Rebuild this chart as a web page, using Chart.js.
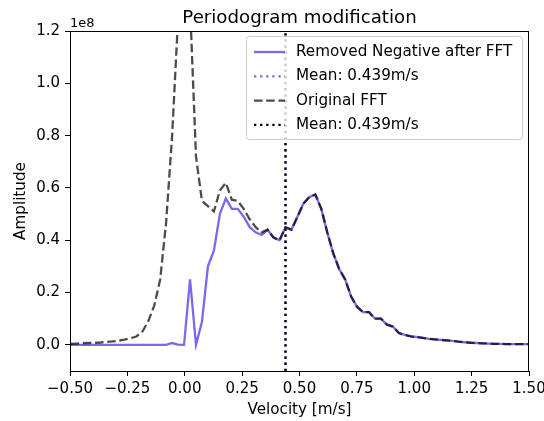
<!DOCTYPE html>
<html>
<head>
<meta charset="utf-8">
<script src="https://cdn.jsdelivr.net/npm/chart.js@4.4.1/dist/chart.umd.min.js"></script>
<style>
  html, body { margin: 0; padding: 0; background: #fff; }
  canvas { display: block; }
</style>
</head>
<body>
<canvas id="periodogram" width="544" height="421"></canvas>
<script>
// velocity bins [m/s]
const velocity = [
  -0.497, -0.471, -0.445, -0.419, -0.393, -0.367, -0.341, -0.315, -0.289, -0.263,
  -0.237, -0.211, -0.185, -0.159, -0.133, -0.107, -0.081, -0.055, -0.029, -0.003,
  0.023, 0.049, 0.075, 0.101, 0.127, 0.153, 0.179, 0.205, 0.231, 0.257,
  0.283, 0.309, 0.335, 0.361, 0.387, 0.413, 0.439, 0.465, 0.491, 0.517,
  0.543, 0.569, 0.595, 0.621, 0.647, 0.673, 0.699, 0.725, 0.751, 0.777,
  0.803, 0.829, 0.855, 0.881, 0.907, 0.933, 0.959, 0.985, 1.011, 1.037,
  1.063, 1.089, 1.115, 1.141, 1.167, 1.193, 1.219, 1.245, 1.271, 1.297,
  1.323, 1.349, 1.375, 1.401, 1.427, 1.453, 1.479, 1.505
];

// amplitudes in units of 1e8
const originalFFT = [
  0.004, 0.005, 0.006, 0.007, 0.008, 0.009, 0.011, 0.013, 0.016, 0.020,
  0.025, 0.032, 0.050, 0.090, 0.150, 0.250, 0.470, 0.800, 1.250, 1.500,
  1.300, 0.720, 0.550, 0.530, 0.510, 0.590, 0.620, 0.555, 0.550, 0.520,
  0.480, 0.450, 0.430, 0.440, 0.410, 0.400, 0.450, 0.440, 0.490, 0.540,
  0.565, 0.575, 0.520, 0.430, 0.350, 0.290, 0.250, 0.185, 0.145, 0.125,
  0.125, 0.100, 0.100, 0.077, 0.070, 0.045, 0.038, 0.032, 0.030, 0.027,
  0.023, 0.021, 0.019, 0.017, 0.015, 0.012, 0.010, 0.008, 0.007, 0.006,
  0.005, 0.004, 0.004, 0.003, 0.003, 0.003, 0.003, 0.003
];

const removedNegative = [
  0, 0, 0, 0, 0, 0, 0, 0, 0, 0,
  0, 0, 0, 0, 0, 0, 0, 0.007, 0.001, 0,
  0.250, 0.000, 0.088, 0.300, 0.360, 0.500, 0.560, 0.520, 0.520, 0.490,
  0.450, 0.430, 0.420, 0.440, 0.410, 0.400, 0.450, 0.440, 0.490, 0.540,
  0.565, 0.575, 0.520, 0.430, 0.350, 0.290, 0.250, 0.185, 0.145, 0.125,
  0.125, 0.100, 0.100, 0.077, 0.070, 0.045, 0.038, 0.032, 0.030, 0.027,
  0.023, 0.021, 0.019, 0.017, 0.015, 0.012, 0.010, 0.008, 0.007, 0.006,
  0.005, 0.004, 0.004, 0.003, 0.003, 0.003, 0.003, 0.003
];

const meanVelocity = 0.439;
const xTicks = [-0.5, -0.25, 0, 0.25, 0.5, 0.75, 1.0, 1.25, 1.5];
const yTicks = [0, 0.2, 0.4, 0.6, 0.8, 1.0, 1.2];

const FONT = "'DejaVu Sans', sans-serif";
const PURPLE = '#7b68ee';
const LW = 2.3;
const toPoints = (xs, ys) => xs.map((x, i) => ({ x: x, y: ys[i] }));
const meanLine = [{ x: meanVelocity, y: -0.1 }, { x: meanVelocity, y: 1.2 }];

// frame, title, axis labels, offset text and legend drawn matplotlib-style
const decor = {
  id: 'decor',
  afterDraw(chart) {
    const ctx = chart.ctx;
    const a = chart.chartArea;
    ctx.save();
    ctx.strokeStyle = '#000';
    ctx.lineWidth = 1;
    ctx.strokeRect(a.left + 0.5, a.top + 0.5, a.right - a.left - 1, a.bottom - a.top);

    ctx.fillStyle = '#000';
    ctx.textAlign = 'center';
    ctx.textBaseline = 'alphabetic';
    ctx.font = '18.2px ' + FONT;
    ctx.fillText('Periodogram modification', (a.left + a.right) / 2, 23);
    ctx.font = '15.2px ' + FONT;
    ctx.fillText('Velocity [m/s]', (a.left + a.right) / 2, 414);
    ctx.save();
    ctx.translate(25, (a.top + a.bottom) / 2);
    ctx.rotate(-Math.PI / 2);
    ctx.fillText('Amplitude', 0, 0);
    ctx.restore();
    ctx.textAlign = 'left';
    ctx.font = '13px ' + FONT;
    ctx.fillText('1e8', a.left, 27);

    // legend
    const box = { x: 246, y: 36, w: 276, h: 103 };
    ctx.beginPath();
    ctx.roundRect(box.x + 0.5, box.y + 0.5, box.w, box.h, 3);
    ctx.fillStyle = 'rgba(255,255,255,0.8)';
    ctx.fill();
    ctx.strokeStyle = '#cccccc';
    ctx.lineWidth = 1;
    ctx.stroke();
    ctx.font = '15.2px ' + FONT;
    ctx.textBaseline = 'middle';
    chart.data.datasets.forEach((ds, i) => {
      const cy = 52 + i * 24.3;
      ctx.beginPath();
      ctx.strokeStyle = ds.borderColor;
      ctx.lineWidth = ds.borderWidth;
      ctx.setLineDash(ds.borderDash || []);
      ctx.moveTo(254, cy);
      ctx.lineTo(285, cy);
      ctx.stroke();
      ctx.setLineDash([]);
      ctx.fillStyle = '#000';
      ctx.fillText(ds.label, 296, cy);
    });
    ctx.restore();
  }
};

new Chart(document.getElementById('periodogram'), {
  type: 'line',
  data: {
    datasets: [
      { label: 'Removed Negative after FFT', data: toPoints(velocity, removedNegative),
        borderColor: PURPLE, borderWidth: LW, order: 4 },
      { label: 'Mean: 0.439m/s', data: meanLine,
        borderColor: PURPLE, borderWidth: LW, borderDash: [2.3, 3.8], order: 3 },
      { label: 'Original FFT', data: toPoints(velocity, originalFFT),
        borderColor: 'rgba(0,0,0,0.7)', borderWidth: LW, borderDash: [8.5, 3.7], order: 2 },
      { label: 'Mean: 0.439m/s', data: meanLine,
        borderColor: '#000', borderWidth: LW, borderDash: [2.3, 3.8], order: 1 }
    ]
  },
  options: {
    responsive: false,
    animation: false,
    devicePixelRatio: 1,
    layout: { padding: { top: 31, right: 15, left: 0, bottom: 0 } },
    elements: { point: { radius: 0 }, line: { tension: 0, fill: false } },
    plugins: { legend: { display: false }, title: { display: false }, tooltip: { enabled: false } },
    scales: {
      x: {
        type: 'linear', min: -0.5, max: 1.5,
        afterFit: s => { s.height = 50; s.paddingLeft = 0; s.paddingRight = 0; },
        afterBuildTicks: s => { s.ticks = xTicks.map(v => ({ value: v })); },
        grid: { drawOnChartArea: false, drawTicks: true, tickLength: 5, color: '#000' },
        border: { display: true, color: '#000', width: 1 },
        ticks: {
          color: '#000', font: { family: FONT, size: 15 }, padding: 4, maxRotation: 0,
          callback: v => v.toFixed(2).replace('-', '\u2212')
        }
      },
      y: {
        type: 'linear', min: -0.1, max: 1.2,
        afterFit: s => { s.width = 70; s.paddingTop = 0; s.paddingBottom = 0; },
        afterBuildTicks: s => { s.ticks = yTicks.map(v => ({ value: v })); },
        grid: { drawOnChartArea: false, drawTicks: true, tickLength: 5, color: '#000' },
        border: { display: true, color: '#000', width: 1 },
        ticks: {
          color: '#000', font: { family: FONT, size: 15 }, padding: 5,
          callback: v => v.toFixed(1)
        }
      }
    }
  },
  plugins: [decor]
});
</script>
</body>
</html>
